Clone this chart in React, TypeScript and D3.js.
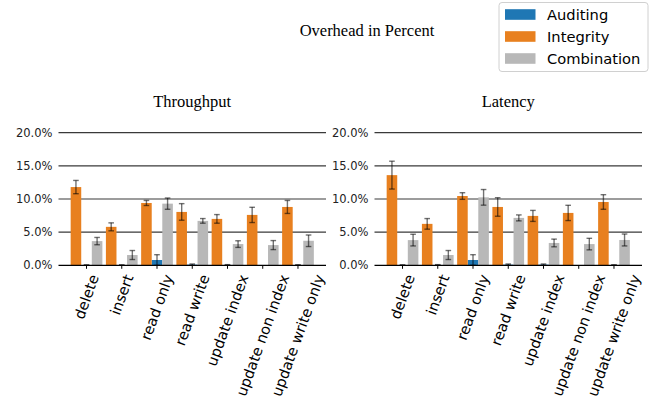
import React from "react";
import * as d3 from "d3";

const categories = ["delete", "insert", "read only", "read write", "update index", "update non index", "update write only"];
const seriesNames = ["Auditing", "Integrity", "Combination"];
const seriesColors = ["#1f77b4", "#e8801f", "#b8b8b8"];

const thrAuditing = [0.02, 0.02, 0.8, 0.1, 0.05, 0.0, 0.03];
const thrAuditingErr = [0.05, 0.05, 0.8, 0.1, 0.05, 0.0, 0.05];
const thrIntegrity = [11.8, 5.8, 9.4, 8.05, 7.0, 7.6, 8.8];
const thrIntegrityErr = [1.0, 0.6, 0.38, 1.25, 0.65, 1.15, 0.98];
const thrCombination = [3.65, 1.55, 9.3, 6.7, 3.2, 3.05, 3.7];
const thrCombinationErr = [0.55, 0.68, 0.85, 0.35, 0.5, 0.68, 0.87];

const latAuditing = [0.02, 0.05, 0.8, 0.1, 0.1, 0.0, 0.03];
const latAuditingErr = [0.05, 0.05, 0.8, 0.1, 0.1, 0.0, 0.05];
const latIntegrity = [13.6, 6.25, 10.45, 8.8, 7.45, 7.9, 9.55];
const latIntegrityErr = [2.1, 0.8, 0.5, 1.4, 0.83, 1.15, 1.1];
const latCombination = [3.8, 1.55, 10.25, 7.15, 3.37, 3.2, 3.82];
const latCombinationErr = [0.88, 0.68, 1.18, 0.45, 0.58, 0.87, 0.9];

const yTicks = [0, 5, 10, 15, 20];

const panels = [
  { title: "Throughput", x0: 58.5, x1: 326, values: [thrAuditing, thrIntegrity, thrCombination], errs: [thrAuditingErr, thrIntegrityErr, thrCombinationErr] },
  { title: "Latency", x0: 374.5, x1: 642, values: [latAuditing, latIntegrity, latCombination], errs: [latAuditingErr, latIntegrityErr, latCombinationErr] },
];

const offsets = [0, -0.3, 0.3];
const barW = 0.3;

let ctx: CanvasRenderingContext2D | null = null;
function measure(text: string, font: string) {
  if (!ctx) ctx = document.createElement("canvas").getContext("2d");
  if (!ctx) return text.length * 8;
  ctx.font = font;
  return ctx.measureText(text).width;
}

const sans = "DejaVu Sans";
const serif = "Liberation Serif";
const labelSize = 14.6;

function Panel({ p }: { p: typeof panels[0] }) {
  const y = d3.scaleLinear().domain([0, 20]).range([265.3, 132.7]);
  const x = d3.scaleLinear().domain([-0.795, 6.795]).range([p.x0, p.x1]);
  const cap = 2.8;
  const rad = (70 * Math.PI) / 180;
  const top = y(0) + 7;
  return (
    <g>
      <text x={(p.x0 + p.x1) / 2} y={106.5} textAnchor="middle" fontFamily={serif} fontSize={16.5} fill="#000">
        {p.title}
      </text>
      {yTicks.map((t) => (
        <g key={t}>
          {t > 0 && <line x1={p.x0} x2={p.x1} y1={y(t)} y2={y(t)} stroke="#3a3a3a" strokeWidth={1.2} />}
          <text x={p.x0 - 6} y={y(t)} dy="0.35em" textAnchor="end" fontFamily={sans} fontSize={11.5} fill="#222">
            {d3.format(".1f")(t) + "%"}
          </text>
        </g>
      ))}
      {p.values.map((vals, si) =>
        vals.map((v, ci) => {
          const cx = x(ci + offsets[si]);
          const left = x(ci + offsets[si] - barW / 2);
          const right = x(ci + offsets[si] + barW / 2);
          const e = p.errs[si][ci];
          return (
            <g key={si + "-" + ci}>
              {v > 0 && <rect x={left} width={right - left} y={y(v)} height={y(0) - y(v)} fill={seriesColors[si]} />}
              {(v > 0 || e > 0) && (
                <g stroke="#000" strokeOpacity={0.55} strokeWidth={1.4}>
                  <line x1={cx} x2={cx} y1={y(Math.max(0, v - e))} y2={y(v + e)} />
                  <line x1={cx - cap} x2={cx + cap} y1={y(v + e)} y2={y(v + e)} />
                  <line x1={cx - cap} x2={cx + cap} y1={y(Math.max(0, v - e))} y2={y(Math.max(0, v - e))} />
                </g>
              )}
            </g>
          );
        })
      )}
      <line x1={p.x0} x2={p.x1} y1={y(0)} y2={y(0)} stroke="#000" strokeWidth={1.2} />
      {categories.map((c, i) => {
        const W = measure(c, `${labelSize}px "${sans}"`);
        const H = labelSize * 1.164;
        const bh = W * Math.sin(rad) + H * Math.cos(rad);
        const cy = top + bh / 2;
        return (
          <g key={c}>
            <line x1={x(i)} x2={x(i)} y1={y(0)} y2={y(0) + 3.5} stroke="#000" strokeWidth={1} />
            <text
              transform={`translate(${x(i)},${cy}) rotate(-70)`}
              textAnchor="middle"
              dy="0.346em"
              fontFamily={sans}
              fontSize={labelSize}
              fill="#000"
            >
              {c}
            </text>
          </g>
        );
      })}
    </g>
  );
}

export default function App() {
  const rows = [14.5, 36.5, 58.5];
  return (
    <svg width={657} height={404} style={{ position: "absolute", left: 0, top: 0, background: "#fff" }}>
      <rect width={657} height={404} fill="#fff" />
      <text x={367} y={36} textAnchor="middle" fontFamily={serif} fontSize={16.5} fill="#000">
        Overhead in Percent
      </text>
      {panels.map((p) => (
        <Panel key={p.title} p={p} />
      ))}
      <g>
        <rect x={499} y={2.5} width={149} height={69} rx={3} fill="#fff" fillOpacity={0.8} stroke="#d0d0d0" />
        {seriesNames.map((n, i) => (
          <g key={n}>
            <rect x={505} y={rows[i] - 5.3} width={30.5} height={10.6} fill={seriesColors[i]} />
            <text x={547} y={rows[i]} dy="0.35em" fontFamily={sans} fontSize={14.7} fill="#000">
              {n}
            </text>
          </g>
        ))}
      </g>
    </svg>
  );
}
